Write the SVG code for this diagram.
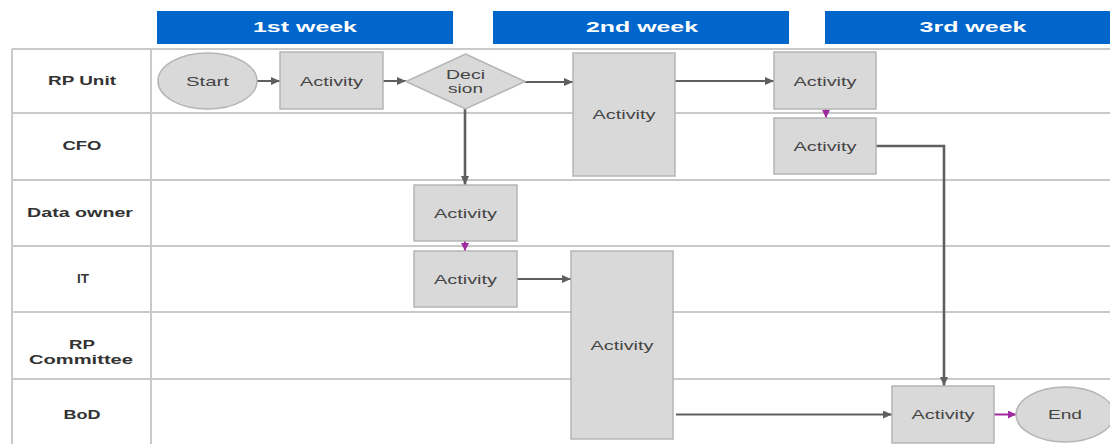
<svg xmlns="http://www.w3.org/2000/svg" width="1110" height="444" viewBox="0 0 1110 444">
  <style>
    .hdr { fill: #0066cc; }
    .hdr-t { font-family: "Liberation Sans", Arial, sans-serif; font-weight: bold; font-size: 15px; fill: #ffffff; text-anchor: middle; }
    .lane { stroke: #c9c9c9; stroke-width: 2; fill: none; }
    .lane-t { font-family: "Liberation Sans", Arial, sans-serif; font-weight: bold; font-size: 12.5px; fill: #333333; text-anchor: middle; }
    .box { fill: #d9d9d9; stroke: #b5b5b5; stroke-width: 1.5; }
    .box-t { font-family: "Liberation Sans", Arial, sans-serif; font-size: 13px; fill: #454545; text-anchor: middle; }
    .conn { stroke: #5f5f5f; stroke-width: 2; fill: none; }
    .conn-b { stroke: #5f5f5f; stroke-width: 2.6; fill: none; }
    .conn-p { stroke: #a02aa0; stroke-width: 2; fill: none; }
  </style>
  <defs>
    <marker id="ah" markerUnits="userSpaceOnUse" markerWidth="9" markerHeight="8" refX="9" refY="4" orient="auto">
      <path d="M0,0 L9,4 L0,8 z" fill="#5f5f5f"/>
    </marker>
    <marker id="ahp" markerUnits="userSpaceOnUse" markerWidth="8" markerHeight="8" refX="8" refY="4" orient="auto">
      <path d="M0,0 L8,4 L0,8 z" fill="#a02aa0"/>
    </marker>
  </defs>

  <rect width="1110" height="444" fill="#ffffff"/>

  <!-- week headers -->
  <g id="weeks">
    <rect class="hdr" x="157" y="11" width="296" height="33"/>
    <text class="hdr-t" x="305" y="32" textLength="104" lengthAdjust="spacingAndGlyphs">1st week</text>
    <rect class="hdr" x="493" y="11" width="296" height="33"/>
    <text class="hdr-t" x="642" y="32" textLength="112" lengthAdjust="spacingAndGlyphs">2nd week</text>
    <rect class="hdr" x="825" y="11" width="295" height="33"/>
    <text class="hdr-t" x="973" y="32" textLength="107" lengthAdjust="spacingAndGlyphs">3rd week</text>
  </g>

  <!-- swimlane grid -->
  <g id="lanes">
    <path class="lane" d="M12,49 H1110 M12,113 H1110 M12,180 H1110 M12,246 H1110 M12,312 H1110 M12,379 H1110"/>
    <path class="lane" d="M12,49 V444 M151,49 V444"/>
    <text class="lane-t" x="82" y="85" textLength="68" lengthAdjust="spacingAndGlyphs">RP Unit</text>
    <text class="lane-t" x="82" y="150" textLength="39" lengthAdjust="spacingAndGlyphs">CFO</text>
    <text class="lane-t" x="80" y="217" textLength="106" lengthAdjust="spacingAndGlyphs">Data owner</text>
    <text class="lane-t" x="83" y="283" textLength="12" lengthAdjust="spacingAndGlyphs">IT</text>
    <text class="lane-t" x="82" y="349" textLength="26" lengthAdjust="spacingAndGlyphs">RP</text>
    <text class="lane-t" x="81" y="364" textLength="104" lengthAdjust="spacingAndGlyphs">Committee</text>
    <text class="lane-t" x="82" y="419" textLength="37" lengthAdjust="spacingAndGlyphs">BoD</text>
  </g>

  <!-- connectors -->
  <g id="connectors">
    <path class="conn" d="M257,81 H280" marker-end="url(#ah)"/>
    <path class="conn" d="M383,81 H406" marker-end="url(#ah)"/>
    <path class="conn" d="M525,82 H573" marker-end="url(#ah)"/>
    <path class="conn-b" d="M465,109 V185" marker-end="url(#ah)"/>
    <path class="conn" d="M675,81 H774" marker-end="url(#ah)"/>
    <path class="conn-p" d="M826,109 V118" marker-end="url(#ahp)"/>
    <path class="conn-p" d="M465,241 V251" marker-end="url(#ahp)"/>
    <path class="conn" d="M517,279 H571" marker-end="url(#ah)"/>
    <path class="conn-b" d="M876,146 H944 V386" marker-end="url(#ah)"/>
    <path class="conn" d="M676,414.5 H892" marker-end="url(#ah)"/>
    <path class="conn-p" d="M994,414.5 H1016" marker-end="url(#ahp)"/>
  </g>

  <!-- nodes -->
  <g id="start">
    <ellipse class="box" cx="207.5" cy="81" rx="49.5" ry="28"/>
    <text class="box-t" x="207.5" y="85.5" textLength="43" lengthAdjust="spacingAndGlyphs">Start</text>
  </g>
  <g id="rp-activity-1">
    <rect class="box" x="280" y="52" width="103" height="57"/>
    <text class="box-t" x="331.5" y="85.5" textLength="63" lengthAdjust="spacingAndGlyphs">Activity</text>
  </g>
  <g id="decision">
    <polygon class="box" points="465.5,54 525,81.5 465.5,109 406,81.5"/>
    <text class="box-t" x="465.5" y="79" textLength="39" lengthAdjust="spacingAndGlyphs">Deci</text>
    <text class="box-t" x="465.5" y="93" textLength="35" lengthAdjust="spacingAndGlyphs">sion</text>
  </g>
  <g id="rp-activity-2">
    <rect class="box" x="573" y="53" width="102" height="123"/>
    <text class="box-t" x="624" y="119" textLength="63" lengthAdjust="spacingAndGlyphs">Activity</text>
  </g>
  <g id="rp-activity-3">
    <rect class="box" x="774" y="52" width="102" height="57"/>
    <text class="box-t" x="825" y="85.5" textLength="63" lengthAdjust="spacingAndGlyphs">Activity</text>
  </g>
  <g id="cfo-activity">
    <rect class="box" x="774" y="118" width="102" height="56"/>
    <text class="box-t" x="825" y="150.5" textLength="63" lengthAdjust="spacingAndGlyphs">Activity</text>
  </g>
  <g id="data-owner-activity">
    <rect class="box" x="414" y="185" width="103" height="56"/>
    <text class="box-t" x="465.5" y="217.5" textLength="63" lengthAdjust="spacingAndGlyphs">Activity</text>
  </g>
  <g id="it-activity">
    <rect class="box" x="414" y="251" width="103" height="56"/>
    <text class="box-t" x="465.5" y="283.5" textLength="63" lengthAdjust="spacingAndGlyphs">Activity</text>
  </g>
  <g id="committee-activity">
    <rect class="box" x="571" y="251" width="102" height="188"/>
    <text class="box-t" x="622" y="349.5" textLength="63" lengthAdjust="spacingAndGlyphs">Activity</text>
  </g>
  <g id="bod-activity">
    <rect class="box" x="892" y="386" width="102" height="57"/>
    <text class="box-t" x="943" y="419" textLength="63" lengthAdjust="spacingAndGlyphs">Activity</text>
  </g>
  <g id="end">
    <ellipse class="box" cx="1065" cy="414.5" rx="49" ry="27.5"/>
    <text class="box-t" x="1065" y="419" textLength="34" lengthAdjust="spacingAndGlyphs">End</text>
  </g>
</svg>
